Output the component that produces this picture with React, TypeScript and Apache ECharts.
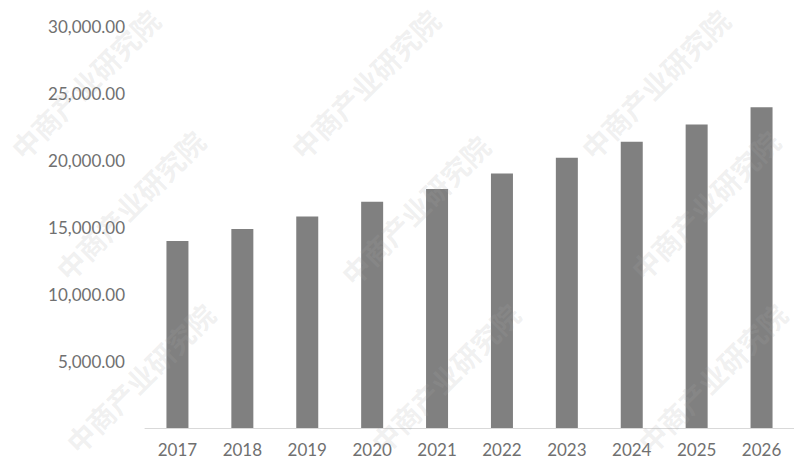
import React, { useEffect, useRef } from "react";
import * as echarts from "echarts";

const years = ["2017", "2018", "2019", "2020", "2021", "2022", "2023", "2024", "2025", "2026"];
const values = [13950, 14850, 15780, 16880, 17840, 19000, 20170, 21360, 22640, 23930];
const yTicks = [0, 5000, 10000, 15000, 20000, 25000, 30000];
const watermarkText = "中商产业研究院";
const watermarkCenters = [
  [85, 84], [365, 84], [655, 84],
  [130, 205], [415, 210], [705, 205],
  [140, 378], [445, 378], [712, 378],
];

export default function App() {
  const ref = useRef<HTMLDivElement>(null);
  useEffect(() => {
    if (!ref.current) return;
    const chart = echarts.init(ref.current, null, { renderer: "svg" });
    const fmt = (v: number) =>
      v === 0 ? "" : v.toLocaleString("en-US", { minimumFractionDigits: 2, maximumFractionDigits: 2 });
    chart.setOption({
      animation: false,
      backgroundColor: "#ffffff",
      grid: { left: 145, right: 0, top: 26, bottom: 33, containLabel: false },
      xAxis: {
        type: "category",
        data: years,
        axisLine: { show: true, lineStyle: { color: "#d9d9d9", width: 1 } },
        axisTick: { show: false },
        axisLabel: { color: "#707070", fontSize: 17, fontFamily: "Lato", margin: 13 },
      },
      yAxis: {
        type: "value",
        min: yTicks[0],
        max: yTicks[yTicks.length - 1],
        interval: yTicks[1] - yTicks[0],
        axisLine: { show: false },
        axisTick: { show: false },
        splitLine: { show: false },
        axisLabel: { color: "#707070", fontSize: 17, fontFamily: "Lato", margin: 20, formatter: fmt },
      },
      series: [
        {
          type: "bar",
          data: values,
          barWidth: 22,
          itemStyle: { color: "#808080" },
          z: 2,
        },
      ],
      graphic: watermarkCenters.map(([x, y]) => ({
        type: "text",
        x,
        y,
        rotation: Math.PI / 4,
        z: 10,
        silent: true,
        style: {
          text: watermarkText,
          fontSize: 28,
          fontWeight: "bold",
          fontFamily: "Noto Sans CJK SC",
          fill: "rgba(170,170,170,0.18)",
          align: "center",
          verticalAlign: "middle",
        },
      })),
    });
    return () => chart.dispose();
  }, []);
  return (
    <div
      ref={ref}
      style={{ position: "fixed", left: 0, top: 0, width: 794, height: 461 }}
    />
  );
}
